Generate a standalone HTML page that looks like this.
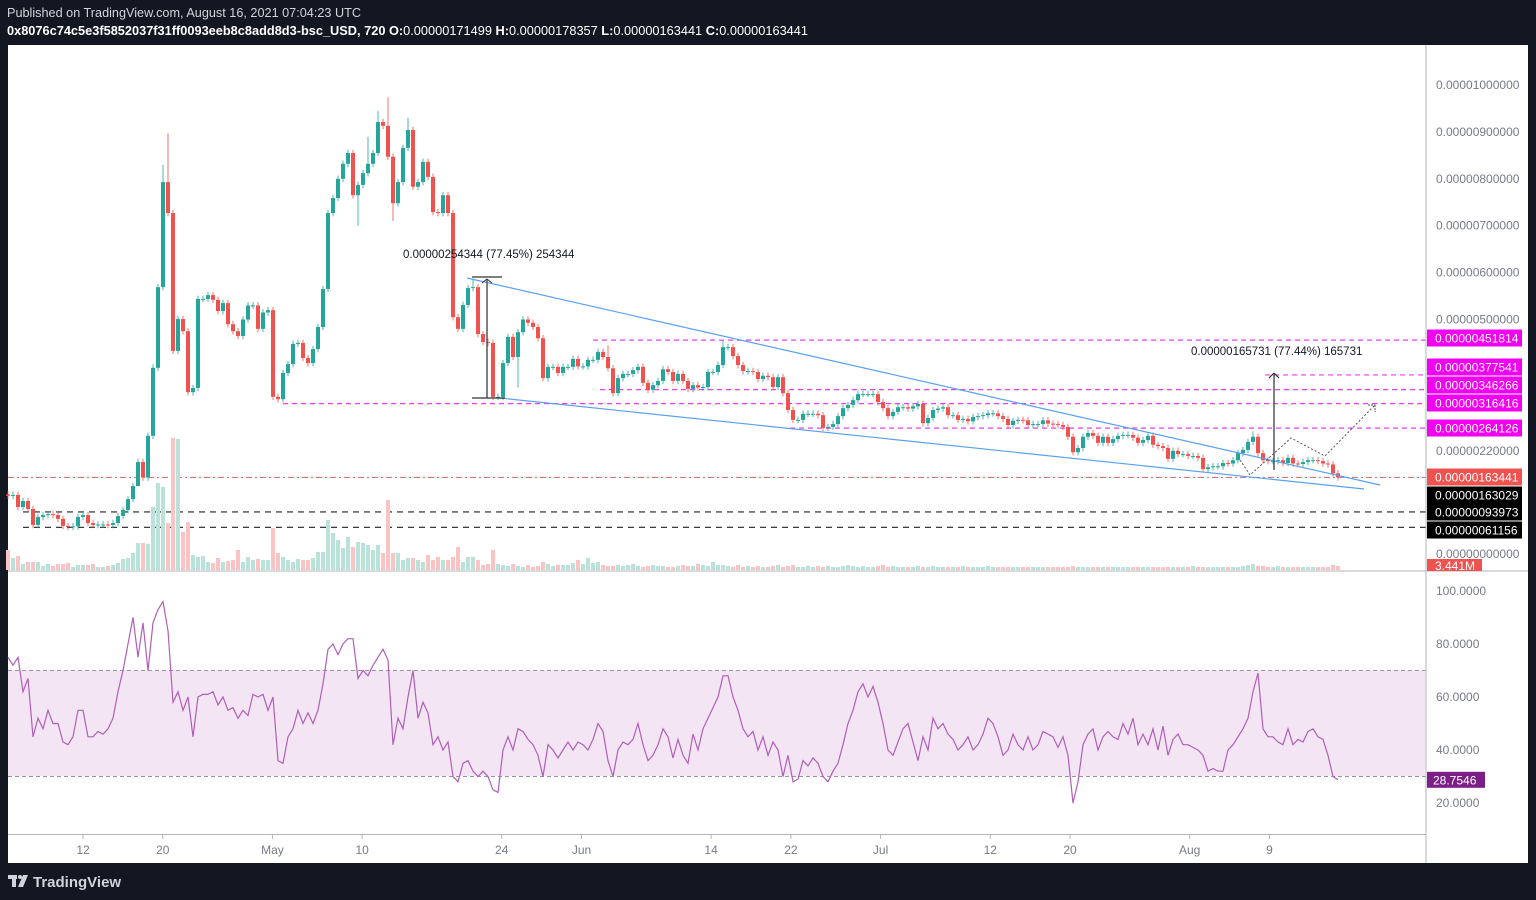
<!DOCTYPE html>
<html><head><meta charset="utf-8">
<style>
html,body{margin:0;padding:0;background:#131722;width:1536px;height:900px;overflow:hidden;font-family:"Liberation Sans",sans-serif;}
svg text{font-family:"Liberation Sans",sans-serif;}
</style></head>
<body>
<svg id="chart" width="1536" height="900" viewBox="0 0 1536 900" xmlns="http://www.w3.org/2000/svg">
  <rect x="0" y="0" width="1536" height="900" fill="#131722"/>
  <text x="7" y="17" font-size="12.5" fill="#d1d4dc" textLength="354" lengthAdjust="spacingAndGlyphs">Published on TradingView.com, August 16, 2021 07:04:23 UTC</text>
  <text x="7" y="35" font-size="12.5" fill="#ffffff" textLength="801" lengthAdjust="spacingAndGlyphs"><tspan font-weight="bold">0x8076c74c5e3f5852037f31ff0093eeb8c8add8d3-bsc_USD, 720 O:</tspan>0.00000171499 <tspan font-weight="bold">H:</tspan>0.00000178357 <tspan font-weight="bold">L:</tspan>0.00000163441 <tspan font-weight="bold">C:</tspan>0.00000163441</text>
  <rect x="8" y="45" width="1520" height="818" fill="#ffffff"/>
  <rect x="8" y="670" width="1417" height="106" fill="#f3e5f3"/>
  <g id="overlays"></g>
  <g id="vol"></g>
  <g id="candles"></g>
  <g id="rsi"></g>
  <g id="drawings"></g>
  <line x1="1426" y1="45" x2="1426" y2="863" stroke="#b2b5be" stroke-width="1"/>
  <line x1="8" y1="571" x2="1528" y2="571" stroke="#b2b5be" stroke-width="1"/>
  <line x1="8" y1="834.5" x2="1426" y2="834.5" stroke="#b2b5be" stroke-width="1"/>
  <g id="axes"></g>
  <g>
    <rect x="8" y="875" width="9" height="4" fill="#d1d4dc"/>
    <rect x="12" y="875" width="4" height="12" fill="#d1d4dc"/>
    <circle cx="20" cy="877" r="2" fill="#d1d4dc"/>
    <polygon points="23,875 28,875 23,887 18,887" fill="#d1d4dc"/>
    <text x="33" y="887" font-size="15" font-weight="bold" fill="#d1d4dc">TradingView</text>
  </g>
</svg>
<script>
const closes = [1.24,1.26,1.0,1.13,0.96,0.62,0.79,0.83,0.85,0.83,0.75,0.6,0.58,0.59,0.79,0.83,0.66,0.62,0.63,0.63,0.62,0.66,0.81,0.94,1.17,1.45,1.96,1.63,2.52,3.97,5.69,7.93,7.27,4.33,5.01,4.75,3.45,3.54,5.44,5.44,5.52,5.42,5.18,5.35,4.9,4.75,4.65,5.0,5.3,5.3,4.8,5.15,5.2,3.35,3.3,3.86,4.05,4.48,4.5,4.18,4.07,4.37,4.84,5.65,7.27,7.59,8.0,8.32,8.55,7.65,7.87,8.12,8.32,8.55,9.21,9.13,8.47,7.48,7.93,8.66,9.04,7.83,7.93,8.36,8.04,7.29,7.27,7.65,7.27,5.05,4.8,5.31,5.67,5.69,4.69,4.52,4.5,3.35,3.35,4.07,4.63,4.2,4.73,5.0,4.93,4.84,4.6,3.75,3.99,3.99,3.86,3.99,3.99,4.16,4.0,4.0,4.14,4.14,4.31,4.2,3.96,3.43,3.75,3.84,3.84,3.92,3.99,3.65,3.5,3.6,3.69,3.94,3.88,3.69,3.84,3.69,3.52,3.6,3.55,3.56,3.88,3.88,4.03,4.41,4.41,4.22,4.03,3.9,3.9,3.88,3.73,3.8,3.77,3.56,3.77,3.43,3.07,2.86,2.86,2.99,2.99,2.99,2.96,2.69,2.71,2.77,2.94,3.11,3.18,3.28,3.41,3.41,3.41,3.41,3.24,3.11,2.94,3.03,3.13,3.13,3.1,3.15,3.2,2.79,2.9,3.07,3.1,3.13,2.96,2.96,2.86,2.88,2.83,2.92,2.94,2.96,3.0,3.0,2.94,2.88,2.75,2.84,2.86,2.85,2.75,2.77,2.77,2.85,2.78,2.77,2.75,2.71,2.5,2.17,2.26,2.5,2.58,2.52,2.37,2.5,2.37,2.45,2.52,2.54,2.54,2.48,2.37,2.43,2.52,2.33,2.3,2.26,2.03,2.2,2.13,2.13,2.09,2.09,2.05,1.81,1.85,1.87,1.87,1.94,1.93,2.0,2.15,2.22,2.39,2.5,2.15,2.0,1.98,1.98,2.0,1.94,2.05,1.93,1.92,1.96,2.0,2.0,1.98,1.93,1.91,1.72,1.634];
const firstOpen = 1.27;
const highOverrides = {31:8.3, 32:8.97, 72:8.9, 74:9.45, 76:9.74, 80:9.3, 93:5.85, 249:2.62, 120:4.45, 143:4.55};
const lowOverrides = {70:7.0, 77:7.1, 102:3.55, 26:1.5};
const volumes = [20,12,14,6,8,8,8,4,6,4,6,6,7,3,5,5,5,6,3,3,4,
5,7,11,12,17,27,27,26,63,87,83,47,132,131,38,48,15,13,14,8,7,12,8,9,10,20,8,13,10,11,10,10,42,17,13,10,8,11,
10,10,12,18,18,50,37,30,22,33,23,28,27,25,20,25,17,70,17,17,10,12,12,10,8,15,10,13,10,10,13,23,8,13,13,10,5,6,20,6,
5,4,6,4,3,5,3,4,8,6,4,5,5,5,7,10,6,12,7,8,5,4,4,5,4,5,6,4,3,4,5,4,4,3,3,4,5,4,4,6,5,4,8,5,5,4,3,5,3,4,3,4,3,3,4,5,3,4,5,3,3,4,3,4,3,4,3,3,4,5,4,3,4,3,3,4,5,3,4,3,3,3,3,4,3,3,4,3,3,3,3,3,4,3,3,3,3,4,3,3,3,3,3,3,3,3,3,3,3,3,3,3,3,3,4,3,3,3,3,3,3,3,3,3,3,3,3,3,3,3,3,3,3,3,3,3,3,3,4,3,3,3,3,3,3,3,3,3,4,5,6,4,4,3,3,4,3,3,3,3,3,3,3,3,3,3,5,4];
const rsiValues = [75,72,75,62,67,45,52,48,55,50,50,43,42,45,55,55,45,45,47,46,48,52,62,70,80,90,75,88,70,88,93,96,85,58,62,55,60,45,60,61,61,62,57,60,55,56,52,55,53,61,60,61,55,60,36,35,45,48,55,50,54,50,55,65,78,80,76,80,82,82,67,70,68,72,75,78,74,42,52,48,60,70,52,58,54,42,45,40,43,30,28,35,36,32,30,32,30,25,24,40,45,40,48,47,44,42,38,30,42,40,37,40,43,40,43,42,40,44,50,47,36,30,40,43,42,44,50,42,36,38,42,48,45,37,44,38,35,46,40,48,52,56,60,68,68,60,55,48,45,47,40,45,38,43,40,30,38,28,29,36,34,37,35,30,28,32,35,42,50,55,62,65,60,64,58,50,40,38,43,48,50,43,36,45,40,52,48,50,46,44,40,42,45,40,42,46,52,50,45,38,40,46,42,40,45,40,42,47,46,45,41,45,38,20,28,42,46,48,40,45,47,45,44,50,46,52,42,46,42,48,40,49,38,44,46,42,42,41,40,38,32,33,32,32,40,42,45,48,52,62,69,48,45,45,43,42,48,42,44,43,47,48,45,44,38,30,28.75];
const priceTicks = [10,9,8,7,6,5,4,2.2,0];
const priceTickLabels = ["0.00001000000","0.00000900000","0.00000800000","0.00000700000","0.00000600000","0.00000500000","0.00000400000","0.00000220000","0.00000000000"];
const rsiTicks = [100,80,60,40,20];
const timeDays = [12,20,31,40,54,62,75,83,92,103,111,123,131];
const timeLabels = ["12","20","May","10","24","Jun","14","22","Jul","12","20","Aug","9"];
const levelPrices = [4.51814,3.77541,3.46266,3.16416,2.64126];
const levelStartX = [593,1265,600,283,790];
const levelLabelY = [338,367,385,403,428];
const supportPrices = [0.93973,0.61156];

const NS="http://www.w3.org/2000/svg";
function xOf(i){return 8+5*i;}
function yP(v){return 554-v*46.9;}
function yR(r){return 591+(100-r)*2.65;}
function xDay(d){return 83+(d-12)*9.97;}
function mk(tag,attrs,parent){const e=document.createElementNS(NS,tag);for(const k in attrs)e.setAttribute(k,attrs[k]);parent.appendChild(e);return e;}

const gC=document.getElementById('candles'), gV=document.getElementById('vol'), gR=document.getElementById('rsi'), gO=document.getElementById('overlays'), gA=document.getElementById('axes'), gD=document.getElementById('drawings');

volumes.forEach((v,i)=>{
  const o=i===0?firstOpen:closes[i-1], c=closes[i]!==undefined?closes[i]:o;
  const r=mk('rect',{x:xOf(i)-2,y:570-v,width:4,height:v,fill:c>=o?'#b9e2d9':'#f9c4c3'},gV);
  
  
});

levelPrices.forEach((p,k)=>{
  const l=mk('line',{x1:levelStartX[k],y1:yP(p)-2,x2:1426,y2:yP(p)-2,stroke:'#f23cf5','stroke-width':1.2,'stroke-dasharray':'5,4'},gO);
  
  
});
const curLine=mk('line',{x1:8,y1:yP(closes[closes.length-1]),x2:1426,y2:yP(closes[closes.length-1]),stroke:'#c9686a','stroke-width':1,'stroke-dasharray':'6,3,2,3'},gO);


supportPrices.forEach(p=>{
  const l=mk('line',{x1:23,y1:yP(p)+2,x2:1426,y2:yP(p)+2,stroke:'#222','stroke-width':1.2,'stroke-dasharray':'6,5'},gO);
  
  
});

closes.forEach((c,i)=>{
  const o=i===0?firstOpen:closes[i-1];
  const up=c>=o, col=up?'#26a69a':'#ef5350';
  const hi=highOverrides[i]!==undefined?highOverrides[i]:Math.max(o,c)+0.07;
  const lo=lowOverrides[i]!==undefined?lowOverrides[i]:Math.min(o,c)-0.07;
  const w=mk('line',{x1:xOf(i),y1:yP(hi),x2:xOf(i),y2:yP(lo),stroke:col,'stroke-width':1,opacity:0.8},gC);
  
  
  const top=yP(Math.max(o,c)), bh=Math.max(1,Math.abs(yP(o)-yP(c)));
  const b=mk('rect',{x:xOf(i)-2,y:top,width:4,height:bh,fill:col},gC);
  
  
});

[70,30].forEach(r=>{
  const l=mk('line',{x1:8,y1:yR(r),x2:1426,y2:yR(r),stroke:'#9598a1','stroke-width':1,'stroke-dasharray':'4,3'},gR);
  
  
});
const rp=mk('polyline',{points:rsiValues.map((r,i)=>xOf(i)+','+yR(r).toFixed(1)).join(' '),fill:'none',stroke:'#b05fb7','stroke-width':1.2},gR);



function ln(x1,y1,x2,y2,st,w,dash,name){const l=mk('line',{x1:x1,y1:y1,x2:x2,y2:y2,stroke:st,'stroke-width':w},gD);if(dash)l.setAttribute('stroke-dasharray',dash);return l;}
ln(467,278,1380,485,'#5aa0f0',1.2,null,'wedge-upper-trendline');
ln(500,398,1364,489,'#5aa0f0',1.2,null,'wedge-lower-trendline');
ln(487,279,487,398,'#555',1.5,null,'measure-1-line');
ln(472,277,502,277,'#333',1.2,null,'measure-1-top');
ln(472,398,505,398,'#333',1.2,null,'measure-1-bottom');
ln(482,283,487,279,'#333',1,null,'measure-1-arrow');ln(492,283,487,279,'#333',1,null,'measure-1-arrow');
ln(1274,373,1274,470,'#555',1.5,null,'measure-2-line');
ln(1269,378,1274,373,'#333',1.2,null,'measure-2-arrow');ln(1279,378,1274,373,'#333',1.2,null,'measure-2-arrow');
const pp=mk('polyline',{points:'1240,460 1250,475 1291,438 1325,456 1375,405',fill:'none',stroke:'#555','stroke-width':1,'stroke-dasharray':'2,2'},gD);


ln(1368,405,1375,405,'#555',1,'2,1','projection-arrow');ln(1375,405,1375,412,'#555',1,'2,1','projection-arrow');
function tx(x,y,s,fs,fill,name){const t=mk('text',{x:x,y:y,'font-size':fs,fill:fill},gD);t.textContent=s;return t;}
tx(403,258,'0.00000254344 (77.45%) 254344',11.5,'#131722','measure-1-label');
tx(1191,355,'0.00000165731 (77.44%) 165731',11.5,'#131722','measure-2-label');

priceTicks.forEach((v,k)=>{
  const t=mk('text',{x:1436,y:yP(v)+4,'font-size':12,fill:'#787b86'},gA);t.textContent=priceTickLabels[k];
  
  
});
function box(y,label,bg,name){
  const r=mk('rect',{x:1427,y:y-8.5,width:95,height:17,fill:bg},gA);
  
  
  const t=mk('text',{x:1435,y:y+4.5,'font-size':12,fill:'#fff'},gA);t.textContent=label;
  
  }
levelPrices.forEach((p,k)=>box(levelLabelY[k],'0.00000'+Math.round(p*100000).toString().padStart(6,'0'),'#f200f2','level-price-label'));
box(477,'0.00000163441','#ef5350','last-price-label');
box(495,'0.00000163029','#000000','support-price-label');
box(512,'0.00000093973','#000000','support-price-label');
box(530,'0.00000061156','#000000','support-price-label');
const vr=mk('rect',{x:1427,y:559,width:55,height:12,fill:'#ef5350'},gA);


const vt=mk('text',{x:1435,y:570,'font-size':12,fill:'#fff'},gA);vt.textContent='3.441M';



rsiTicks.forEach(r=>{
  const t=mk('text',{x:1436,y:yR(r)+4,'font-size':12,fill:'#787b86'},gA);t.textContent=r.toFixed(4);
  
  
});
const rb=mk('rect',{x:1427,y:yR(28.7546)-8,width:58,height:16,fill:'#7b1f87'},gA);


const rt=mk('text',{x:1433,y:yR(28.7546)+4.5,'font-size':12,fill:'#fff'},gA);rt.textContent='28.7546';



timeDays.forEach((d,k)=>{
  const x=xDay(d);
  const tk=mk('line',{x1:x,y1:835,x2:x,y2:839,stroke:'#b2b5be'},gA);
  
  
  const t=mk('text',{x:x,y:854,'font-size':12,fill:'#787b86','text-anchor':'middle'},gA);t.textContent=timeLabels[k];
  
  
});
</script>
</body></html>
